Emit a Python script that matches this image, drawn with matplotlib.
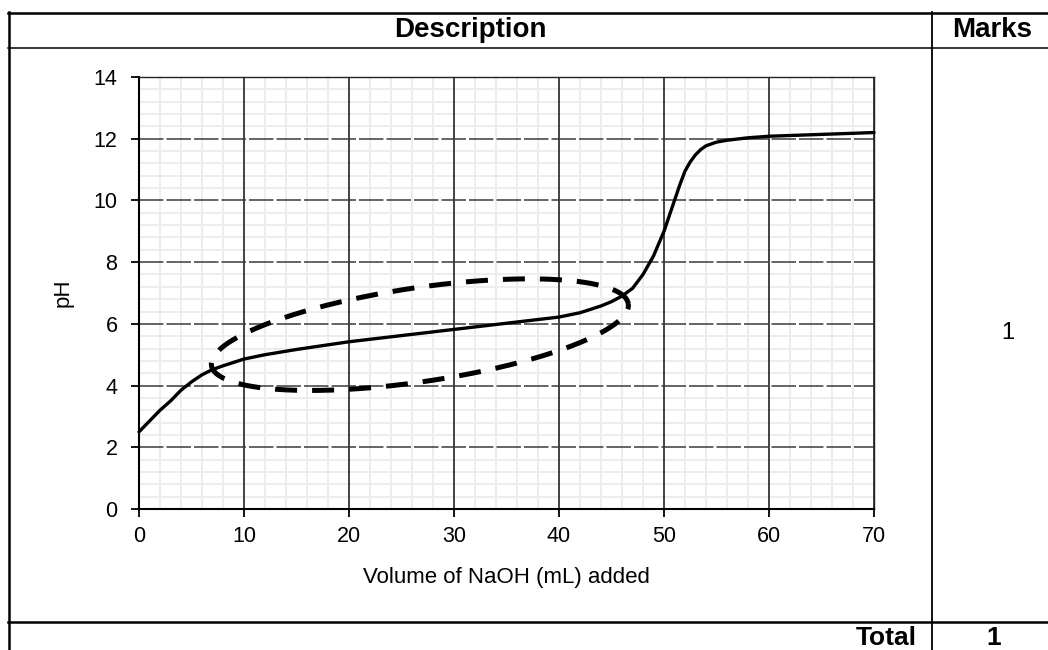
import numpy as np
import matplotlib
matplotlib.use("Agg")
import matplotlib.pyplot as plt
from matplotlib.lines import Line2D
from matplotlib.ticker import MultipleLocator

plt.rcParams['font.family'] = ['Liberation Sans', 'DejaVu Sans']

# ---- data ----
volume_ml = [0, 1, 2, 3, 4, 5, 6, 7, 8, 10, 12, 15, 20, 25, 30, 35, 40, 42, 44, 45,
             46, 47, 48, 49, 50, 51, 51.5, 52, 52.5, 53, 53.5, 54, 55, 56, 58, 60, 65, 70]
ph_values = [2.5, 2.85, 3.2, 3.5, 3.85, 4.12, 4.35, 4.52, 4.64, 4.86, 5.0, 5.17, 5.42,
             5.62, 5.82, 6.02, 6.22, 6.36, 6.58, 6.72, 6.9, 7.15, 7.6, 8.2, 9.0,
             10.0, 10.5, 10.95, 11.25, 11.48, 11.65, 11.77, 11.89, 11.95, 12.03, 12.08,
             12.14, 12.2]
x_ticks = [0, 10, 20, 30, 40, 50, 60, 70]
y_ticks = [0, 2, 4, 6, 8, 10, 12, 14]

# ellipse annotation: tips (data) and half-width (pixels)
ellipse_left_tip = (6.9, 4.65)
ellipse_right_tip = (46.6, 6.65)
ellipse_half_minor_px = 47

header_desc = "Description"
header_marks = "Marks"
marks_value = "1"
total_label = "Total"
total_value = "1"

W, H = 1048, 650
fig = plt.figure(figsize=(W / 100, H / 100), dpi=100)

# axes placement (pixels)
ax_l, ax_r, ax_t, ax_b = 139, 874, 77, 509
ax = fig.add_axes([ax_l / W, 1 - ax_b / H, (ax_r - ax_l) / W, (ax_b - ax_t) / H])

ax.set_xlim(0, 70)
ax.set_ylim(0, 14)
ax.set_xticks(x_ticks)
ax.set_yticks(y_ticks)
ax.xaxis.set_minor_locator(MultipleLocator(2))
ax.yaxis.set_minor_locator(MultipleLocator(0.4))
ax.set_axisbelow(True)

# minor grid drawn manually underneath the major grid
for xm in ax.xaxis.get_minorticklocs():
    ax.axvline(xm, color='#ededed', lw=1.4, zorder=0.1)
for ym in ax.yaxis.get_minorticklocs():
    ax.axhline(ym, color='#ededed', lw=1.4, zorder=0.1)

ax.grid(which='major', axis='x', color='#111111', lw=1.1, ls='-')
ax.grid(which='major', axis='y', color='#3a3a3a', lw=1.1, ls=(0, (16, 2)))
ax.tick_params(which='minor', length=0)
ax.tick_params(which='major', direction='out', length=5.5, width=1.3, color='black',
               labelsize=15.5)
ax.tick_params(axis='y', pad=10)
ax.tick_params(axis='x', pad=7)
for s in ['left', 'bottom']:
    ax.spines[s].set_linewidth(1.5)
    ax.spines[s].set_color('black')
for s in ['top', 'right']:
    ax.spines[s].set_linewidth(1.0)
    ax.spines[s].set_color('#222222')

ax.set_xlabel("Volume of NaOH (mL) added", fontsize=16, labelpad=14)
ax.set_ylabel("pH", fontsize=16, labelpad=14)

ax.plot(volume_ml, ph_values, color='black', lw=2.4, solid_joinstyle='round',
        solid_capstyle='round', zorder=5, clip_on=False)

# ellipse computed in display space, mapped back to data
fig.canvas.draw()
p1 = ax.transData.transform(ellipse_left_tip)
p2 = ax.transData.transform(ellipse_right_tip)
c = (p1 + p2) / 2
a = np.hypot(*(p2 - p1)) / 2
th = np.arctan2(p2[1] - p1[1], p2[0] - p1[0])
b = ellipse_half_minor_px
t = np.linspace(0, 2 * np.pi, 400)
ex = c[0] + a * np.cos(t) * np.cos(th) - b * np.sin(t) * np.sin(th)
ey = c[1] + a * np.cos(t) * np.sin(th) + b * np.sin(t) * np.cos(th)
ed = ax.transData.inverted().transform(np.column_stack([ex, ey]))
ax.plot(ed[:, 0], ed[:, 1], color='black', lw=3.6, ls=(0, (4.4, 3)),
        dash_capstyle='butt', zorder=6)

# table lines (pixel coordinates)
def hline(y, x0, x1, lw):
    fig.add_artist(Line2D([x0 / W, x1 / W], [1 - y / H, 1 - y / H],
                          transform=fig.transFigure, color='black', lw=lw))

def vline(x, y0, y1, lw):
    fig.add_artist(Line2D([x / W, x / W], [1 - y0 / H, 1 - y1 / H],
                          transform=fig.transFigure, color='black', lw=lw))

hline(12.5, 7.5, W, 1.8)
hline(48, 7.5, W, 1.1)
hline(621.5, 7.5, W, 1.8)
vline(8.5, 11.6, H, 1.8)
vline(931.5, 11.6, H, 1.3)

fig.text(470 / W, 1 - 30 / H, header_desc, ha='center', va='center',
         fontsize=20, fontweight='bold')
fig.text(992 / W, 1 - 30 / H, header_marks, ha='center', va='center',
         fontsize=20, fontweight='bold')
fig.text(1008 / W, 1 - 333 / H, marks_value, ha='center', va='center', fontsize=17)
fig.text(917 / W, 1 - 638 / H, total_label, ha='right', va='center',
         fontsize=19, fontweight='bold')
fig.text(994 / W, 1 - 638 / H, total_value, ha='center', va='center',
         fontsize=19, fontweight='bold')

fig.savefig("out.png", dpi=100, facecolor='white')
